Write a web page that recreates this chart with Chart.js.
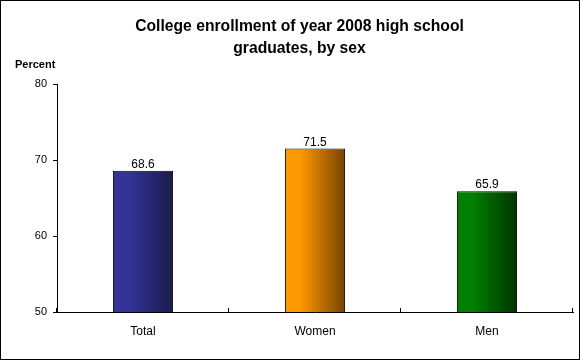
<!DOCTYPE html>
<html>
<head>
<meta charset="utf-8">
<script src="https://cdn.jsdelivr.net/npm/chart.js@4.4.1/dist/chart.umd.min.js"></script>
<style>
  html, body { margin: 0; padding: 0; background: #fff; }
  #wrap { width: 580px; height: 360px; }
</style>
</head>
<body>
<div id="wrap"><canvas id="enrollChart" width="580" height="360"></canvas></div>
<script>
const categories = ['Total', 'Women', 'Men'];
const enrollment = [68.6, 71.5, 65.9];
const yTicks = [50, 60, 70, 80];
const titleLines = ['College enrollment of year 2008 high school', 'graduates, by sex'];
const axisLabel = 'Percent';

// left / right shade of each bar
const palette = [
  ['#333399', '#1b1b4a'],
  ['#ff9900', '#744300'],
  ['#008000', '#003500']
];

const FONT = "'Liberation Sans', Arial, sans-serif";
const BAR_PCT = 0.35;

function barGradient(context) {
  const chart = context.chart;
  const pair = palette[context.dataIndex] || palette[0];
  const xs = chart.scales.x;
  if (!xs || !chart.chartArea) return pair[0];
  const center = xs.getPixelForValue(context.dataIndex);
  const half = (xs.width / categories.length) * BAR_PCT / 2;
  const g = chart.ctx.createLinearGradient(center - half, 0, center + half, 0);
  g.addColorStop(0, pair[0]);
  g.addColorStop(0.25, pair[0]);
  g.addColorStop(1, pair[1]);
  return g;
}

const extras = {
  id: 'extras',
  afterDraw(chart) {
    const ctx = chart.ctx;
    const xs = chart.scales.x;
    ctx.save();

    // small tick marks pointing up at the category edges
    ctx.strokeStyle = '#000';
    ctx.lineWidth = 1;
    ctx.beginPath();
    for (let i = 0; i <= categories.length; i++) {
      const px = Math.round(xs.getPixelForValue(i - 0.5)) - 0.5;
      ctx.moveTo(px, xs.top);
      ctx.lineTo(px, xs.top - 4);
    }
    ctx.stroke();

    // value labels over the bars
    const meta = chart.getDatasetMeta(0);
    ctx.fillStyle = '#000';
    ctx.font = '12px ' + FONT;
    ctx.textAlign = 'center';
    ctx.textBaseline = 'alphabetic';
    meta.data.forEach((bar, i) => {
      ctx.fillText(enrollment[i].toFixed(1), bar.x, bar.y - 3);
    });

    // "Percent" above the y axis
    ctx.font = 'bold 11px ' + FONT;
    ctx.textAlign = 'left';
    ctx.fillText(axisLabel, 15, 68);

    // frame
    ctx.strokeRect(0.5, 0.5, chart.width - 1, chart.height - 1);
    ctx.restore();
  }
};

const ctx = document.getElementById('enrollChart').getContext('2d');

new Chart(ctx, {
  type: 'bar',
  data: {
    labels: categories,
    datasets: [{
      data: enrollment,
      backgroundColor: barGradient,
      borderColor: '#000',
      borderWidth: 1,
      borderSkipped: false,
      categoryPercentage: 1,
      barPercentage: BAR_PCT
    }]
  },
  options: {
    responsive: false,
    animation: false,
    // left pad keeps the title centred on the picture
    layout: { padding: { left: 26, right: 7, top: 0, bottom: 0 } },
    plugins: {
      legend: { display: false },
      tooltip: { enabled: false },
      title: {
        display: true,
        text: titleLines,
        color: '#000',
        font: { family: FONT, size: 15.7, weight: 'bold', lineHeight: '22px' },
        padding: { top: 16, bottom: 24 }
      }
    },
    scales: {
      y: {
        min: yTicks[0],
        max: yTicks[yTicks.length - 1],
        afterBuildTicks: (scale) => { scale.ticks = yTicks.map(v => ({ value: v })); },
        afterFit: (scale) => { scale.width = 31; },
        ticks: { color: '#000', font: { family: FONT, size: 11 }, padding: 6 },
        grid: { drawOnChartArea: false, drawTicks: true, tickLength: 4, color: '#000' },
        border: { display: true, color: '#000', width: 1 }
      },
      x: {
        afterFit: (scale) => { scale.height = 48; },
        ticks: { color: '#000', font: { family: FONT, size: 12 }, padding: 4 },
        grid: { display: false },
        border: { display: true, color: '#000', width: 1 }
      }
    }
  },
  plugins: [extras]
});
</script>
</body>
</html>
